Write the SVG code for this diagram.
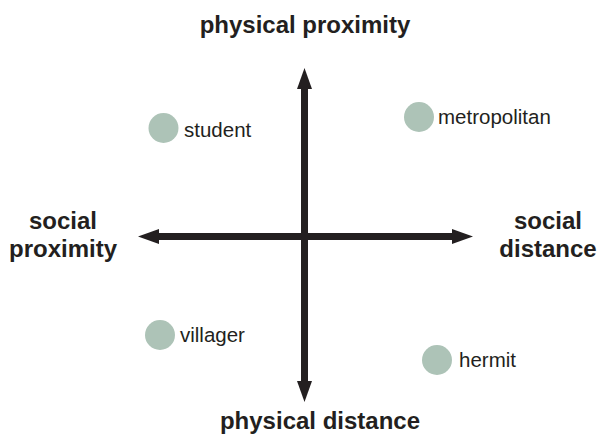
<svg xmlns="http://www.w3.org/2000/svg" width="598" height="435" viewBox="0 0 598 435">
<style>
.title{font-family:"Liberation Sans",Arial,sans-serif;font-weight:bold;font-size:24px;fill:#231f20;text-anchor:middle}
.lbl{font-family:"Liberation Sans",Arial,sans-serif;font-size:20.5px;fill:#231f20}
.dot{fill:#adc3b7}
.axis{stroke:#231f20;stroke-width:7;fill:none}
.head{fill:#231f20}
</style>
<rect width="598" height="435" fill="#ffffff"/>
<g id="connectors">
<line class="axis" x1="304.5" y1="86" x2="304.5" y2="384"/>
<polygon class="head" points="304.5,68 297,89 312,89"/>
<polygon class="head" points="304.5,402 297,381 312,381"/>
<line class="axis" x1="156" y1="236.5" x2="455" y2="236.5"/>
<polygon class="head" points="138,236.5 159,229 159,244"/>
<polygon class="head" points="473,236.5 452,229 452,244"/>
</g>
<g id="axis-top"><text class="title" x="305" y="33">physical proximity</text></g>
<g id="axis-bottom"><text class="title" x="320" y="429">physical distance</text></g>
<g id="axis-left"><text class="title" x="63" y="229">social</text><text class="title" x="63" y="257">proximity</text></g>
<g id="axis-right"><text class="title" x="548" y="229">social</text><text class="title" x="548" y="257">distance</text></g>
<g id="student"><circle class="dot" cx="163.5" cy="128" r="15"/><text class="lbl" x="184" y="137">student</text></g>
<g id="metropolitan"><circle class="dot" cx="419" cy="117" r="15"/><text class="lbl" x="438" y="124">metropolitan</text></g>
<g id="villager"><circle class="dot" cx="160" cy="335" r="15"/><text class="lbl" x="180" y="342">villager</text></g>
<g id="hermit"><circle class="dot" cx="437" cy="360" r="15"/><text class="lbl" x="459" y="367">hermit</text></g>
</svg>
